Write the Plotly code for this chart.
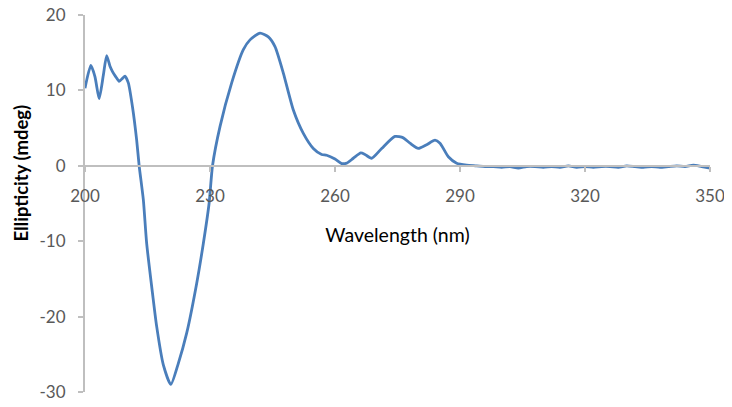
import plotly.graph_objects as go

# CD spectrum
wavelength = [200, 201.4, 202.4, 203.4, 204.4, 205.2, 206.0, 206.6, 207.4, 208.2, 209.0, 209.6, 210.4,
              211.4, 212.4, 213.0, 214.0, 214.8, 216.2, 217.2, 218.8, 220.6, 222.4, 224.4, 226.8,
              228.4, 229.8, 230.6, 232.4, 235.2, 238.0, 239.6, 242.0, 244.0, 245.6, 247.6, 250.0,
              252.4, 254.8, 256.8, 258.0, 260.0, 261.6, 262.8, 264.4, 266.2, 267.2, 268.8, 271.2,
              274.4, 276.4, 278.0, 280.0, 282.0, 284.0, 285.2, 287.2, 289.2, 291.6,
              294, 296, 298, 300, 302, 304, 306, 308, 310, 312, 314, 316, 318, 320, 322, 324, 326,
              328, 330, 332, 334, 336, 338, 340, 342, 344, 346, 348, 350]
ellipticity = [10.3, 13.3, 11.8, 8.9, 12.0, 14.6, 13.2, 12.5, 11.8, 11.2, 11.6, 11.9, 11.0,
               7.8, 3.4, 0.0, -4.5, -10.3, -16.9, -21.3, -26.4, -29.0, -26.2, -22.2, -15.6,
               -10.3, -4.9, 0.0, 5.2, 11.0, 15.4, 16.7, 17.6, 17.1, 15.8, 12.3, 7.4,
               4.3, 2.3, 1.5, 1.4, 0.9, 0.3, 0.35, 1.0, 1.7, 1.5, 1.0, 2.3,
               3.9, 3.7, 3.0, 2.3, 2.8, 3.4, 3.0, 1.2, 0.35, 0.1,
               0.0, -0.1, -0.1, -0.2, -0.1, -0.3, -0.1, -0.1, -0.2, -0.1, -0.2, 0.0, -0.2, -0.1, -0.2, -0.1, -0.1,
               -0.2, 0.0, -0.1, -0.2, -0.1, -0.2, -0.1, 0.0, -0.1, 0.1, -0.1, -0.3]

x_ticks = [200, 230, 260, 290, 320, 350]
y_ticks = [-30, -20, -10, 0, 10, 20]
y_labels = [str(v) for v in y_ticks]   # plain hyphen, as in the reference

font = "Lato, 'Open Sans', sans-serif"
axis_grey = "#BFBFBF"
label_grey = "#595959"

fig = go.Figure()
fig.add_trace(go.Scatter(x=wavelength, y=ellipticity, mode="lines",
                         line=dict(color="#4A7EBB", width=2.8, shape="spline", smoothing=0.6),
                         showlegend=False, hoverinfo="skip"))

# page body has an 8px margin, so the figure is shrunk by that much
fig.update_layout(
    width=724, height=399,
    margin=dict(l=77, r=22, t=7, b=15),
    paper_bgcolor="white", plot_bgcolor="white",
    font=dict(family=font),
    xaxis=dict(range=[200, 350], tickvals=x_ticks, showgrid=False, zeroline=False,
               showline=True, linecolor=axis_grey, linewidth=2,
               ticks="outside", ticklen=5, tickcolor=axis_grey, tickwidth=1.5,
               tickfont=dict(size=17, color=label_grey), ticklabelstandoff=10,
               ticklabeloverflow="allow",
               anchor="free", position=0.6,
               title=dict(text="Wavelength (nm)", font=dict(size=19.5, color="black"), standoff=22),
               automargin=False),
    yaxis=dict(range=[-30, 20], tickvals=y_ticks, ticktext=y_labels, showgrid=False, zeroline=False,
               showline=True, linecolor=axis_grey, linewidth=2,
               ticks="outside", ticklen=5, tickcolor=axis_grey, tickwidth=1.5,
               tickfont=dict(size=17, color=label_grey), ticklabelstandoff=9,
               ticklabeloverflow="allow",
               automargin=False),
    annotations=[dict(text="<b>Ellipticity (mdeg)</b>", textangle=-90, showarrow=False,
                      xref="paper", yref="paper", x=-0.103, y=0.581,
                      xanchor="center", yanchor="middle",
                      font=dict(size=18.5, color="black"))],
)

fig.write_html("out.html")
